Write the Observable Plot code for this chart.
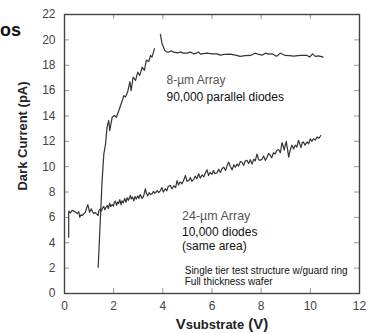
<!DOCTYPE html>
<html><head><meta charset="utf-8">
<script src="https://cdn.jsdelivr.net/npm/d3@7"></script>
<script src="https://cdn.jsdelivr.net/npm/@observablehq/plot@0.6"></script>
<style>
body{margin:0;background:#fff;}
#chart{width:379px;height:333px;overflow:hidden;}
</style></head>
<body><div id="chart"></div>
<script>
const xTicks = [0, 2, 4, 6, 8, 10, 12];
const yTicks = [0, 2, 4, 6, 8, 10, 12, 14, 16, 18, 20, 22];

// 24-um array (10,000 diodes)
const x24 = [0.17,0.17,0.24,0.31,0.38,0.45,0.52,0.58,0.62,0.67,0.72,0.79,0.85,0.90,0.95,1.02,1.09,1.14,1.19,1.25,1.30,1.37,
1.40,1.46,1.50,1.55,1.60,1.64,1.69,1.74,1.78,1.84,1.88,1.94,1.99,2.03,2.07,2.12,2.16,2.20,2.25,2.30,2.34,2.39,2.45,2.50,2.55,2.60,2.68,2.72,2.77,2.82,2.87,2.92,2.98,3.03,3.08,3.16,3.22,3.29,3.33,3.38,3.44,3.50,3.56,3.62,3.68,3.77,3.83,3.90,3.96,4.02,4.10,4.16,4.22,4.31,4.37,4.45,4.52,4.58,4.64,4.70,4.78,4.85,4.92,4.98,5.06,5.12,5.18,5.26,5.32,5.38,5.46,5.52,5.60,5.67,5.73,5.80,5.86,5.92,6.00,6.06,6.12,6.20,6.27,6.34,6.41,6.48,6.55,6.62,6.68,6.75,6.82,6.89,6.95,7.02,7.08,7.15,7.22,7.29,7.35,7.42,7.49,7.56,7.63,7.70,7.76,7.83,7.90,7.97,8.04,8.10,8.17,8.24,8.30,8.37,8.43,8.50,8.57,8.64,8.71,8.78,8.85,8.90,8.94,8.98,9.02,9.07,9.12,9.18,9.25,9.32,9.39,9.45,9.52,9.57,9.62,9.67,9.72,9.78,9.87,9.93,10.00,10.06,10.13,10.20,10.27,10.35,10.43];
const y24 = [4.44,6.49,6.35,6.55,6.5,6.4,6.3,6.45,6.02,6.2,6.15,6.3,6.4,6.75,7.0,6.4,6.68,6.45,6.3,6.4,6.28,6.15,
6.55,6.68,6.5,6.75,6.86,6.6,6.8,6.94,6.7,7.12,6.85,7.0,6.9,7.2,7.28,6.95,7.2,7.1,7.4,7.0,7.3,7.15,7.5,7.2,7.55,7.35,7.73,7.45,7.6,7.3,7.65,7.45,7.7,7.5,7.8,7.5,7.7,8.26,7.9,7.7,7.95,7.8,7.86,8.05,7.9,8.12,7.95,8.12,8.35,8.0,8.26,8.1,8.45,8.52,8.25,8.5,8.35,8.9,8.55,8.8,8.65,8.95,9.3,8.85,8.9,9.15,8.85,9.0,9.25,9.05,9.44,9.1,9.35,9.2,9.5,9.75,9.3,9.55,9.4,9.7,9.45,9.5,9.8,9.55,9.85,9.96,9.7,10.1,10.35,10.0,9.75,10.15,9.95,10.2,10.05,10.4,10.35,10.1,10.45,10.5,10.25,10.55,10.2,10.6,10.45,11.0,10.55,10.5,10.6,10.85,10.5,10.75,11.05,10.9,10.7,11.1,11.0,11.3,11.35,11.1,11.9,11.6,11.3,11.7,12.0,11.4,10.75,11.3,11.7,11.4,11.7,11.55,12.07,11.8,11.5,11.9,11.95,11.7,11.95,11.8,12.2,12.0,12.2,12.1,12.33,12.25,12.46];

// 8-um array (90,000 parallel diodes); NaN marks the break in the trace
const x8 = [1.37,1.53,1.60,1.67,1.73,1.80,1.84,1.94,2.03,2.11,2.21,2.35,2.41,2.48,2.57,2.66,2.71,2.79,2.89,2.98,3.06,3.16,3.25,3.33,3.43,3.50,3.56,3.66,3.78,
3.90,3.97,4.07,4.15,4.24,4.34,4.44,4.60,4.72,4.85,4.99,5.12,5.26,5.36,5.46,5.53,5.65,5.80,6.00,6.20,6.34,6.50,6.75,6.95,7.15,7.35,7.56,7.76,7.90,8.05,8.17,8.30,8.44,8.62,8.78,8.98,9.15,9.32,9.60,9.87,9.97,10.09,10.20,10.34,10.52];
const y8 = [2.07,8.9,11.0,11.8,13.1,13.64,12.85,13.9,14.04,13.9,14.43,15.22,15.6,15.5,15.9,16.7,16.0,17.06,16.8,17.45,17.2,17.85,17.6,18.4,18.3,18.77,18.64,19.3,NaN,
20.43,19.7,19.2,19.05,19.03,19.15,19.03,18.98,19.03,18.95,18.95,19.03,18.9,18.95,19.03,18.87,18.92,18.95,18.9,18.9,18.8,18.85,18.87,18.8,18.7,18.75,18.77,18.95,18.85,18.8,18.95,18.88,18.9,18.7,18.95,18.77,18.75,18.72,18.77,18.77,18.64,18.9,18.7,18.74,18.64];

const labels8 = ["8-µm Array", "90,000 parallel diodes"];
const labels24 = ["24-µm Array", "10,000 diodes", "(same area)"];
const notes = ["Single tier test structure w/guard ring", "Full thickness wafer"];

const d24 = x24.map((x, i) => ({x, y: y24[i]}));
const d8 = x8.map((x, i) => ({x, y: y8[i]}));
const font = "'Liberation Sans', Arial, sans-serif";
const inner = 333 - 14 - 40;
const innerW = 379 - 64 - 20;

const chart = Plot.plot({
  width: 379, height: 333,
  marginLeft: 64, marginRight: 20, marginTop: 14, marginBottom: 40,
  style: {fontFamily: font, fontSize: "12px", color: "#444", background: "#fff", overflow: "visible"},
  x: {domain: [0, 12], ticks: xTicks, tickSize: 0, tickPadding: 8, label: null},
  y: {domain: [0, 22], ticks: yTicks, tickSize: 0, tickPadding: 9, label: null},
  marks: [
    Plot.ruleX(xTicks, {x: d => d, insetTop: inner - 5, stroke: "#999"}),
    Plot.ruleX(xTicks, {x: d => d, insetBottom: inner - 5, stroke: "#999"}),
    Plot.ruleY(yTicks, {y: d => d, insetRight: innerW - 5, stroke: "#999"}),
    Plot.ruleY(yTicks, {y: d => d, insetLeft: innerW - 5, stroke: "#999"}),
    Plot.frame({stroke: "#444", strokeWidth: 1.4}),
    Plot.line(d24, {x: "x", y: "y", stroke: "#333", strokeWidth: 1.2}),
    Plot.line(d8, {x: "x", y: "y", stroke: "#333", strokeWidth: 1.2}),
    Plot.text([labels8[0]], {x: 4.15, y: 16.8, text: d => d, textAnchor: "start", fill: "#555", fontSize: 12}),
    Plot.text([labels8[1]], {x: 4.15, y: 15.46, text: d => d, textAnchor: "start", fill: "#111", fontSize: 12}),
    Plot.text([labels24[0]], {x: 4.78, y: 6.15, text: d => d, textAnchor: "start", fill: "#555", fontSize: 12.5}),
    Plot.text([labels24[1]], {x: 4.78, y: 4.83, text: d => d, textAnchor: "start", fill: "#111", fontSize: 12}),
    Plot.text([labels24[2]], {x: 4.78, y: 3.70, text: d => d, textAnchor: "start", fill: "#111", fontSize: 12}),
    Plot.text([notes[0]], {x: 4.89, y: 1.81, text: d => d, textAnchor: "start", fill: "#111", fontSize: 10}),
    Plot.text([notes[1]], {x: 4.89, y: 0.89, text: d => d, textAnchor: "start", fill: "#111", fontSize: 10})
  ]
});
document.getElementById("chart").appendChild(chart);

const svg = d3.select(chart);
svg.append("text").attr("x", 0).attr("y", 36).attr("text-anchor", "start")
  .attr("font-family", font).attr("font-weight", "bold").attr("font-size", 18).attr("fill", "#111").text("os");
svg.append("text").attr("transform", "translate(26.5,136) rotate(-90)").attr("text-anchor", "middle")
  .attr("font-family", font).attr("font-weight", "bold").attr("font-size", 13).attr("fill", "#222").text("Dark Current (pA)");
const xl = svg.append("text").attr("x", 222).attr("y", 329).attr("text-anchor", "middle")
  .attr("font-family", font).attr("font-weight", "bold").attr("fill", "#222");
xl.append("tspan").attr("font-size", 15).text("V");
xl.append("tspan").attr("font-size", 13).text("substrate");
xl.append("tspan").attr("font-size", 15).text(" (V)");
</script></body></html>
